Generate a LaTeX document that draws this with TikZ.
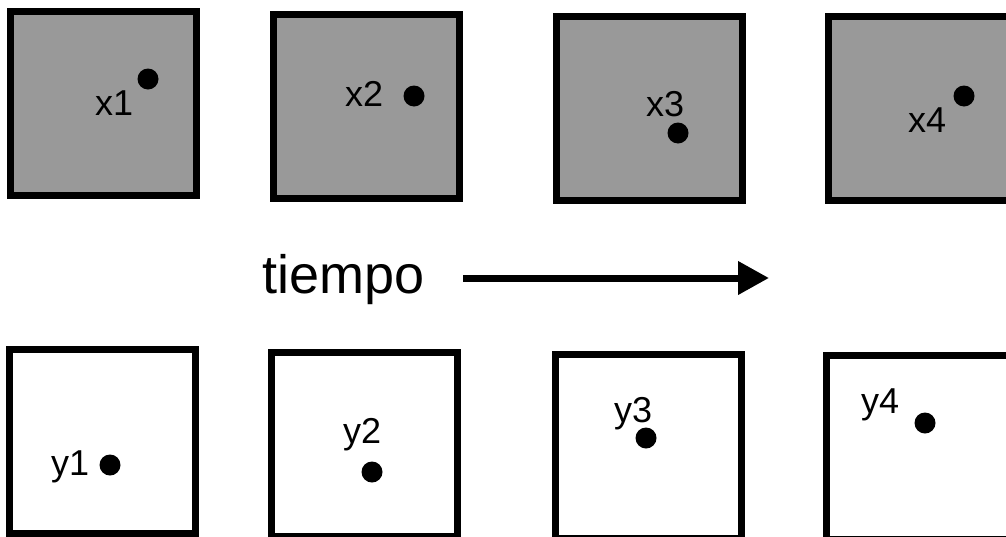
\documentclass[tikz,border=0pt]{standalone}
\usepackage{fontspec}
\setmainfont{Liberation Sans}
\usetikzlibrary{arrows.meta,positioning}
\definecolor{grisfondo}{RGB}{153,153,153}
\tikzset{estado/.style={
    % The shape:
    rectangle,
    % The size:
    minimum width=186pt,
    minimum height=184pt,
    % The border:
    line width=7pt,
    draw=black,
    % The filling:
    fill=grisfondo,
    },
    observacion/.style={
    rectangle,
    minimum width=186pt,
    minimum height=184pt,
    line width=7pt,
    draw=black,
    fill=white,
    },
    punto/.style={
    circle,
    inner sep=0pt,
    minimum size=21pt,
    fill=black,
    },
    etiqueta/.style={
    anchor=base west,
    inner sep=0pt,
    font=\fontsize{36}{42}\selectfont,
    },
}

\begin{document}
\begin{tikzpicture}[x=1pt,y=-1pt]
    \useasboundingbox (0,0) rectangle (1006,536);
    \clip (0,0) rectangle (1006,536);

    % estados ocultos
    \node (cx1) [estado] at (103.75,103.5) {};
    \node (cx2) [estado] at (366.75,106.5) {};
    \node (cx3) [estado] at (649.75,108)   {};
    \node (cx4) [estado] at (921.5,108.5)  {};

    \node (px1) [punto] at (148,79)  {};
    \node (px2) [punto] at (414,96)  {};
    \node (px3) [punto] at (678,133) {};
    \node (px4) [punto] at (964,96)  {};

    \node (lx1) [etiqueta] at (95,115)  {x1};
    \node (lx2) [etiqueta] at (345,106) {x2};
    \node (lx3) [etiqueta] at (646,116) {x3};
    \node (lx4) [etiqueta] at (908,132) {x4};

    % observaciones
    \node (cy1) [observacion] at (102.5,441.5) {};
    \node (cy2) [observacion] at (364.25,444.5) {};
    \node (cy3) [observacion] at (648,446)   {};
    \node (cy4) [observacion] at (919.5,447) {};

    \node (py1) [punto] at (110,465) {};
    \node (py2) [punto] at (372,472) {};
    \node (py3) [punto] at (646,438) {};
    \node (py4) [punto] at (925,423) {};

    \node (ly1) [etiqueta] at (51,475)  {y1};
    \node (ly2) [etiqueta] at (343,443) {y2};
    \node (ly3) [etiqueta] at (614,422) {y3};
    \node (ly4) [etiqueta] at (861,413) {y4};

    \node (tiempo) [etiqueta,font=\fontsize{54}{64}\selectfont] at (262,293) {tiempo};
    \coordinate (ini) at (463,278);
    \coordinate (fin) at (769,278);
    \draw[line width=7pt,-{Triangle[length=31pt,width=32pt]}] (ini) -- (fin);
\end{tikzpicture}
\end{document}
